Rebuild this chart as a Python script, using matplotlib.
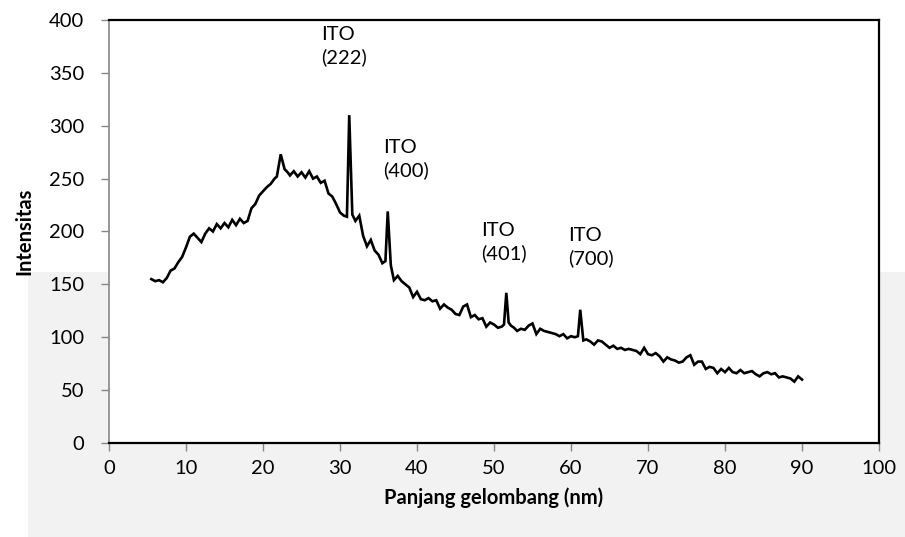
import matplotlib
matplotlib.use("Agg")
import matplotlib.pyplot as plt
from matplotlib.patches import Rectangle

# XRD-style spectrum of the ITO layer
panjang = [
    5.5, 6.0, 6.5, 7.0, 7.5, 8.0, 8.5, 9.0, 9.5, 10.0, 10.5, 11.0, 11.5, 12.0,
    12.5, 13.0, 13.5, 14.0, 14.5, 15.0, 15.5, 16.0, 16.5, 17.0, 17.5, 18.0,
    18.5, 19.0, 19.5, 20.0, 20.5, 21.0, 21.5, 21.8, 22.3, 22.8, 23.2, 23.5,
    24.0, 24.5, 25.0, 25.5, 26.0, 26.5, 27.0, 27.5, 28.0, 28.5, 29.0, 29.5,
    30.0, 30.5, 30.9, 31.2, 31.6, 32.0, 32.5, 33.0, 33.5, 34.0, 34.5, 35.0,
    35.5, 35.9, 36.2, 36.6, 37.0, 37.5, 38.0, 38.5, 39.0, 39.5, 40.0, 40.5,
    41.0, 41.5, 42.0, 42.5, 43.0, 43.5, 44.0, 44.5, 45.0, 45.5, 46.0, 46.5,
    47.0, 47.5, 48.0, 48.5, 49.0, 49.5, 50.0, 50.5, 51.0, 51.3, 51.6, 51.9,
    52.2, 52.6, 53.0, 53.5, 54.0, 54.5, 55.0, 55.5, 56.0, 56.5, 57.0, 57.5,
    58.0, 58.5, 59.0, 59.5, 60.0, 60.5, 60.9, 61.2, 61.6, 62.0, 62.5, 63.0,
    63.5, 64.0, 64.5, 65.0, 65.5, 66.0, 66.5, 67.0, 67.5, 68.0, 68.5, 69.0,
    69.5, 70.0, 70.5, 71.0, 71.5, 72.0, 72.5, 73.0, 73.5, 74.0, 74.5, 75.0,
    75.5, 76.0, 76.5, 77.0, 77.5, 78.0, 78.5, 79.0, 79.5, 80.0, 80.5, 81.0,
    81.5, 82.0, 82.5, 83.0, 83.5, 84.0, 84.5, 85.0, 85.5, 86.0, 86.5, 87.0,
    87.5, 88.0, 88.5, 89.0, 89.5, 90.0,
]
intensitas = [
    155, 153, 154, 152, 156, 163, 165, 171, 176, 185, 195, 198, 194, 190,
    198, 203, 200, 207, 203, 208, 204, 211, 206, 212, 208, 210,
    222, 226, 234, 238, 242, 245, 250, 252, 273, 259, 256, 253,
    257, 252, 256, 251, 257, 250, 252, 246, 248, 236, 233, 226,
    218, 215, 214, 310, 216, 210, 215, 196, 186, 192, 182, 178,
    170, 172, 219, 168, 154, 158, 153, 150, 147, 138, 143, 136,
    135, 137, 134, 135, 127, 131, 128, 126, 122, 121, 129, 131,
    119, 121, 117, 118, 110, 114, 112, 109, 110, 112, 142, 114,
    111, 109, 106, 108, 107, 111, 113, 103, 108, 106, 105, 104,
    103, 101, 103, 99, 101, 100, 101, 126, 97, 98, 96, 93,
    97, 96, 93, 90, 92, 89, 90, 88, 89, 88, 87, 84,
    90, 84, 83, 85, 82, 77, 81, 79, 78, 76, 77, 81,
    83, 74, 77, 77, 70, 72, 71, 66, 70, 67, 71, 67,
    66, 69, 66, 67, 68, 65, 63, 66, 67, 65, 66, 62,
    63, 62, 61, 58, 63, 60,
]

# peak labels: (text, x, y of top line)
puncak = [
    ("ITO\n(222)", 27.5, 394),
    ("ITO\n(400)", 35.6, 287),
    ("ITO\n(401)", 48.3, 209),
    ("ITO\n(700)", 59.6, 204),
]

plt.rcParams['font.family'] = ['Lato', 'DejaVu Sans']

fig = plt.figure(figsize=(9.05, 5.37), dpi=100)
fig.patch.set_facecolor('white')
# light grey band in the lower part of the page, behind the chart
fig.patches.append(Rectangle((28 / 905, 0), 1, (537 - 272) / 537,
                             transform=fig.transFigure, facecolor='#f2f2f2',
                             edgecolor='none', zorder=-5))

ax = fig.add_axes([109 / 905, 94 / 537, 770 / 905, 423 / 537])
ax.set_facecolor('white')
ax.plot(panjang, intensitas, color='black', lw=1.9, solid_joinstyle='miter')

ax.set_xlim(0, 100)
ax.set_ylim(0, 400)
ax.set_xticks(range(0, 101, 10))
ax.set_yticks(range(0, 401, 50))
ax.tick_params(axis='both', direction='out', length=6, width=1,
               color='#868686', labelsize=14.5)
ax.tick_params(axis='x', pad=6)
ax.tick_params(axis='y', pad=12)

for side in ['top', 'right', 'bottom']:
    ax.spines[side].set_color('black')
    ax.spines[side].set_linewidth(1.6)
ax.spines['left'].set_color('#868686')
ax.spines['left'].set_linewidth(1.2)

ax.set_xlabel('Panjang gelombang (nm)', fontsize=14.5, fontweight='bold', labelpad=8)
ax.set_ylabel('Intensitas', fontsize=14.5, fontweight='bold', labelpad=10)

for teks, px, py in puncak:
    ax.text(px, py, teks, fontsize=14.5, ha='left', va='top', linespacing=1.35)

fig.savefig('out.png', dpi=100)
